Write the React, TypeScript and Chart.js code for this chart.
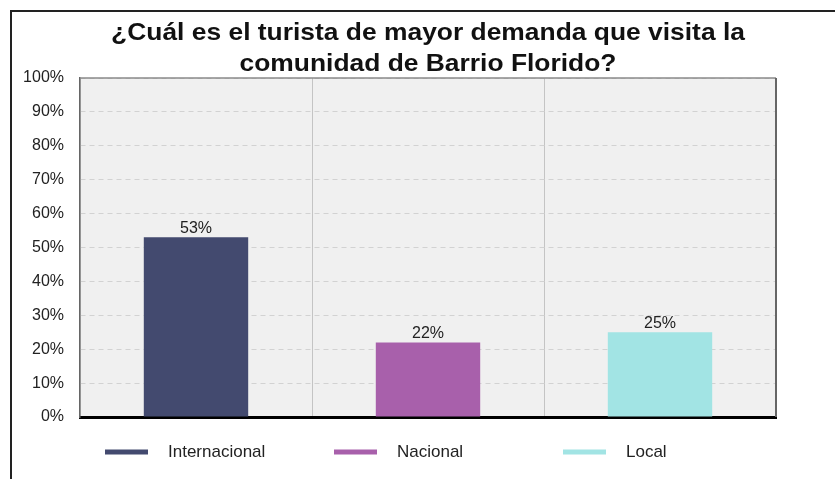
import React, { useEffect, useRef } from "react";
import { Chart, registerables } from "chart.js";

Chart.register(...registerables);

const titleLines = [
  "¿Cuál es el turista de mayor demanda que visita la",
  "comunidad de Barrio Florido?",
];
const categories = ["Internacional", "Nacional", "Local"];
const values = [53, 22, 25];
const colors = ["#434a6f", "#a860ab", "#a2e4e4"];
const yTicks = [0, 10, 20, 30, 40, 50, 60, 70, 80, 90, 100];

const FONT = "Arial, 'Liberation Sans', sans-serif";

const decorPlugin = {
  id: "decor",
  beforeDraw(chart: any) {
    const { ctx, chartArea: a } = chart;
    ctx.save();
    ctx.fillStyle = "#f0f0f0";
    ctx.fillRect(a.left, a.top, a.right - a.left, a.bottom - a.top);
    ctx.restore();
  },
  afterDraw(chart: any) {
    const { ctx, chartArea: a } = chart;
    ctx.save();
    // plot border top/right
    ctx.strokeStyle = "#8a8a8a";
    ctx.lineWidth = 1.5;
    ctx.beginPath();
    ctx.moveTo(a.left, a.top);
    ctx.lineTo(a.right, a.top);
    ctx.stroke();
    ctx.strokeStyle = "#666";
    ctx.lineWidth = 2;
    ctx.beginPath();
    ctx.moveTo(a.right, a.top);
    ctx.lineTo(a.right, a.bottom);
    ctx.stroke();
    // title
    const cx = (a.left + a.right) / 2;
    ctx.save();
    ctx.translate(cx, 0);
    ctx.scale(1.1, 1);
    ctx.fillStyle = "#111";
    ctx.font = `bold 24px ${FONT}`;
    ctx.textAlign = "center";
    ctx.textBaseline = "middle";
    titleLines.forEach((t, i) => ctx.fillText(t, 0, 33 + i * 31));
    ctx.restore();
    // value labels
    const meta = chart.getDatasetMeta(0);
    ctx.font = `16px ${FONT}`;
    ctx.fillStyle = "#222";
    ctx.textAlign = "center";
    ctx.textBaseline = "bottom";
    meta.data.forEach((bar: any, i: number) => {
      ctx.fillText(values[i] + "%", bar.x, bar.y - 1);
    });
    // legend
    const colW = 229;
    const ly = a.bottom + 35;
    ctx.textAlign = "left";
    ctx.textBaseline = "middle";
    ctx.font = `17px ${FONT}`;
    categories.forEach((c, i) => {
      const x0 = a.left + 25 + i * colW;
      ctx.fillStyle = colors[i];
      ctx.fillRect(x0, ly - 2.5, 43, 5);
      ctx.fillStyle = "#222";
      ctx.fillText(c, x0 + 63, ly);
    });
    ctx.restore();
  },
};

export default function App() {
  const ref = useRef<HTMLCanvasElement>(null);
  useEffect(() => {
    if (!ref.current) return;
    const chart = new Chart(ref.current, {
      type: "bar",
      data: {
        labels: categories,
        datasets: [
          {
            data: values,
            backgroundColor: colors,
            barPercentage: 0.45,
            categoryPercentage: 1,
          },
        ],
      },
      options: {
        animation: false,
        responsive: false,
        maintainAspectRatio: false,
        layout: { padding: { left: 0, right: 59, top: 78, bottom: 62 } },
        plugins: {
          legend: { display: false },
          title: { display: false },
          tooltip: { enabled: false },
        },
        scales: {
          x: {
            offset: true,
            ticks: { display: false },
            grid: {
              offset: true,
              color: "#c4c4c4",
              lineWidth: 1,
              drawTicks: false,
            },
            border: { color: "#000", width: 3 },
          },
          y: {
            min: 0,
            max: 100,
            afterFit(scale: any) {
              scale.width = 80;
            },
            afterBuildTicks(scale: any) {
              scale.ticks = yTicks.map((v) => ({ value: v }));
            },
            ticks: {
              callback: (v: any) => v + "%",
              font: { family: FONT, size: 16 },
              color: "#222",
              padding: 16,
            },
            grid: {
              color: "#d2d2d2",
              lineWidth: 1,
              drawTicks: false,
            },
            border: { color: "#666", width: 1.5, dash: [5, 4] as any },
          },
        },
      },
      plugins: [decorPlugin],
    });
    return () => chart.destroy();
  }, []);
  return (
    <div style={{ position: "fixed", left: 0, top: 0, width: 835, height: 479, background: "#fff" }}>
      <div
        style={{
          position: "absolute",
          left: 10,
          top: 10,
          width: 830,
          height: 480,
          borderLeft: "2px solid #222",
          borderTop: "2px solid #222",
        }}
      />
      <canvas ref={ref} width={835} height={479} style={{ position: "absolute", left: 0, top: 0 }} />
    </div>
  );
}
